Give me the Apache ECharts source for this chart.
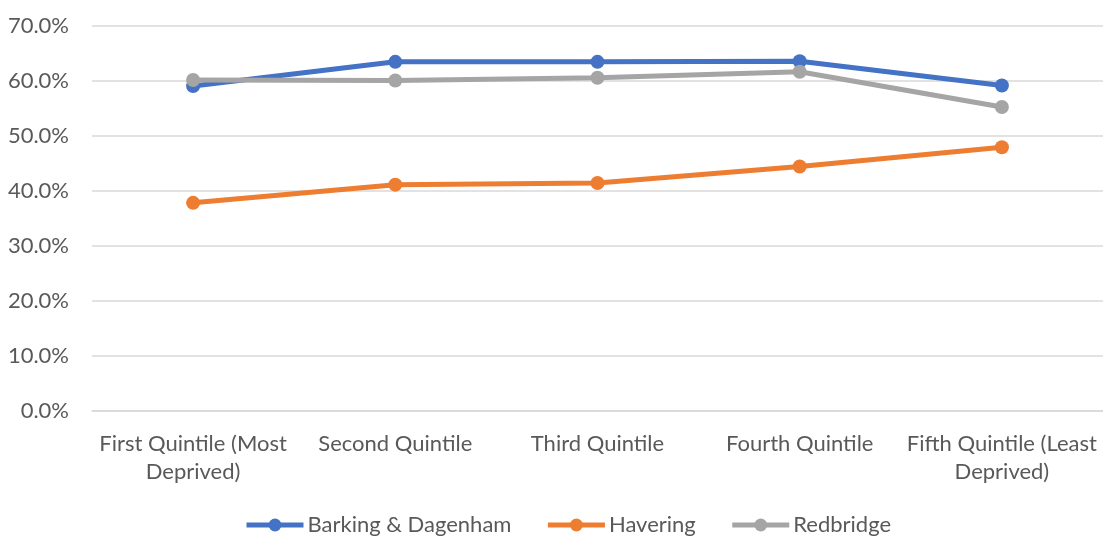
<!DOCTYPE html>
<html>
<head>
<meta charset="utf-8">
<script src="https://cdn.jsdelivr.net/npm/echarts@6/dist/echarts.min.js"></script>
<style>
html,body{margin:0;padding:0;background:#fff;}
#chart{width:1103px;height:538px;}
</style>
</head>
<body>
<div id="chart"></div>
<script>
const categories = ["First Quintile (Most Deprived)", "Second Quintile", "Third Quintile", "Fourth Quintile", "Fifth Quintile (Least Deprived)"];
const barking = [59.0, 63.4, 63.4, 63.5, 59.1];
const havering = [37.8, 41.1, 41.4, 44.4, 47.9];
const redbridge = [60.1, 60.0, 60.5, 61.6, 55.2];
const seriesNames = ["Barking & Dagenham", "Havering", "Redbridge"];
const colors = ["#4472C4", "#ED7D31", "#A5A5A5"];

const chart = echarts.init(document.getElementById('chart'));
const font = "Lato, 'Open Sans', sans-serif";
const fs = 22;
function mk(name, data, color) {
  return {
    name: name, type: 'line', data: data,
    symbol: 'circle', symbolSize: 14,
    lineStyle: {width: 5, color: color},
    itemStyle: {color: color},
    emphasis: {disabled: true},
    animation: false
  };
}
chart.setOption({
  animation: false,
  textStyle: {fontFamily: font},
  grid: {left: 92, top: 25.5, width: 1012.5, height: 385.5, containLabel: false},
  legend: {
    top: 514, left: 244, padding: 0,
    itemWidth: 57, itemHeight: 16, itemGap: 34,
    lineStyle: {width: 5},
    textStyle: {fontSize: fs, color: '#595959', fontFamily: font, padding: [0, 0, 0, -1]},
    data: seriesNames
  },
  xAxis: {
    type: 'category', data: categories, boundaryGap: true,
    axisLine: {show: true, lineStyle: {color: '#D9D9D9', width: 1.5}},
    axisTick: {show: false},
    axisLabel: {
      interval: 0, margin: 19, fontSize: fs, color: '#595959', lineHeight: 28,
      fontFamily: font,
      formatter: function (v) { return v.replace(' Deprived)', '\nDeprived)'); }
    }
  },
  yAxis: {
    type: 'value', min: 0, max: 70, interval: 10,
    axisLine: {show: false}, axisTick: {show: false},
    splitLine: {lineStyle: {color: '#D9D9D9', width: 1.5}},
    axisLabel: {
      fontSize: fs, color: '#595959', margin: 23, fontFamily: font,
      formatter: function (v) { return v.toFixed(1) + '%'; }
    }
  },
  series: [
    mk(seriesNames[0], barking, colors[0]),
    mk(seriesNames[1], havering, colors[1]),
    mk(seriesNames[2], redbridge, colors[2])
  ]
});
</script>
</body>
</html>
